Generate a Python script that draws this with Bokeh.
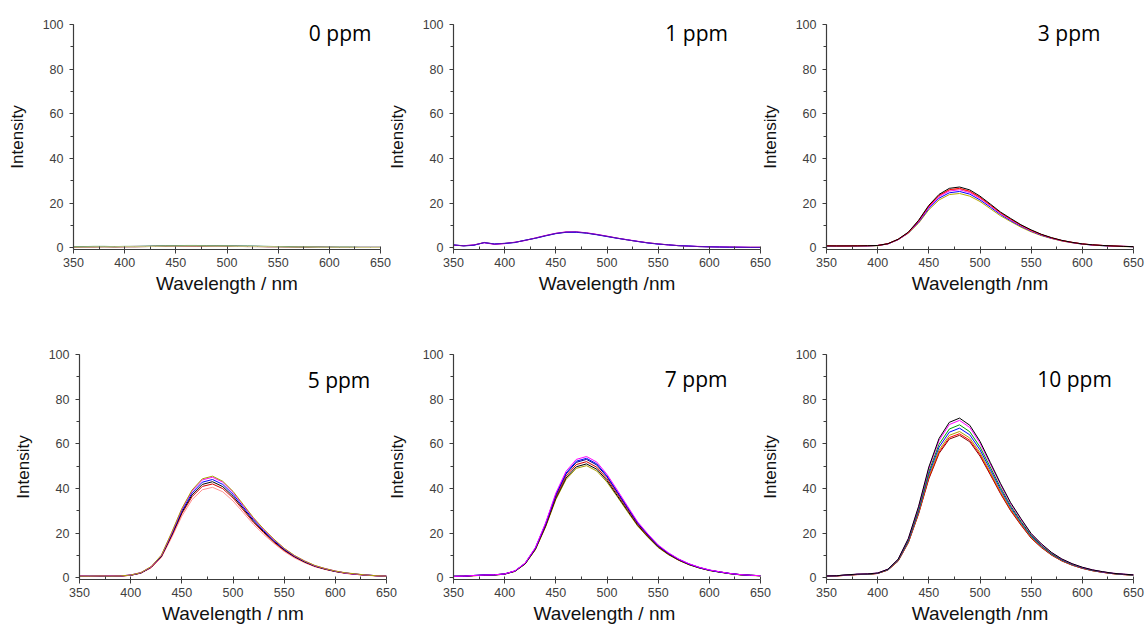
from bokeh.plotting import figure
from bokeh.layouts import row, column
from bokeh.models import Range1d, SingleIntervalTicker, Label
from bokeh.embed import file_html
from bokeh.resources import INLINE

# ---------------- data ----------------
WAVELENGTH = [350, 360, 370, 380, 390, 400, 410, 420, 430, 440, 450, 460, 470, 480, 490, 500,
              510, 520, 530, 540, 550, 560, 570, 580, 590, 600, 610, 620, 630, 640, 650]

PPM0 = [
    [0.4, 0.4, 0.5, 0.5, 0.5, 0.5, 0.6, 0.6, 0.7, 0.8, 0.8, 0.9, 0.8, 0.8, 0.8, 0.7, 0.7, 0.6, 0.6, 0.5, 0.5, 0.4, 0.4, 0.3, 0.3, 0.3, 0.2, 0.2, 0.2, 0.2, 0.2],
    [0.2, 0.3, 0.3, 0.4, 0.3, 0.4, 0.4, 0.5, 0.6, 0.6, 0.7, 0.7, 0.7, 0.6, 0.7, 0.6, 0.6, 0.5, 0.5, 0.4, 0.4, 0.3, 0.2, 0.2, 0.2, 0.1, 0.1, 0.1, 0.1, 0.1, 0.1],
    [0.5, 0.5, 0.6, 0.6, 0.5, 0.6, 0.6, 0.7, 0.8, 0.9, 0.9, 1.0, 1.0, 0.9, 0.9, 0.9, 0.8, 0.8, 0.7, 0.6, 0.5, 0.5, 0.4, 0.4, 0.3, 0.3, 0.3, 0.3, 0.2, 0.2, 0.2],
    [0.3, 0.3, 0.4, 0.4, 0.4, 0.5, 0.5, 0.5, 0.6, 0.7, 0.7, 0.8, 0.8, 0.7, 0.7, 0.7, 0.6, 0.6, 0.5, 0.5, 0.4, 0.3, 0.3, 0.3, 0.2, 0.2, 0.2, 0.2, 0.1, 0.1, 0.1],
]
PPM1 = [
    [1.2, 0.8, 1.2, 2.4, 1.6, 1.9, 2.4, 3.3, 4.3, 5.4, 6.4, 7.0, 7.0, 6.6, 5.9, 5.1, 4.3, 3.5, 2.8, 2.2, 1.7, 1.3, 0.9, 0.7, 0.5, 0.4, 0.3, 0.3, 0.2, 0.2, 0.2],
    [1.1, 0.9, 1.3, 2.2, 1.5, 1.8, 2.5, 3.2, 4.4, 5.5, 6.5, 7.1, 7.1, 6.7, 6.0, 5.2, 4.3, 3.6, 2.9, 2.2, 1.7, 1.2, 1.0, 0.7, 0.6, 0.4, 0.4, 0.3, 0.3, 0.2, 0.2],
    [1.3, 0.8, 1.1, 2.3, 1.7, 1.9, 2.3, 3.4, 4.2, 5.3, 6.3, 6.9, 6.9, 6.5, 5.8, 5.0, 4.2, 3.5, 2.8, 2.1, 1.6, 1.3, 0.9, 0.8, 0.5, 0.4, 0.3, 0.2, 0.2, 0.1, 0.1],
    [1.2, 0.9, 1.2, 2.3, 1.6, 2.0, 2.4, 3.3, 4.3, 5.4, 6.4, 7.0, 7.1, 6.6, 5.9, 5.1, 4.3, 3.5, 2.8, 2.2, 1.7, 1.3, 0.9, 0.7, 0.5, 0.4, 0.3, 0.3, 0.2, 0.2, 0.2],
]
PPM3 = [
    [0.8, 0.8, 0.8, 0.8, 0.8, 0.9, 1.7, 3.6, 6.5, 11.0, 17.0, 21.4, 23.8, 24.3, 23.1, 20.7, 17.5, 14.3, 11.7, 9.2, 7.1, 5.4, 4.1, 3.0, 2.2, 1.6, 1.2, 0.9, 0.7, 0.5, 0.4],
    [0.8, 0.7, 0.8, 0.8, 0.8, 1.0, 1.7, 3.6, 6.6, 11.4, 17.6, 22.2, 24.6, 25.2, 24.0, 21.4, 18.2, 14.9, 12.1, 9.6, 7.4, 5.6, 4.2, 3.1, 2.3, 1.6, 1.2, 0.9, 0.7, 0.6, 0.4],
    [0.8, 0.8, 0.7, 0.8, 0.9, 1.0, 1.7, 3.7, 6.7, 11.7, 18.2, 22.9, 25.4, 26.0, 24.7, 22.1, 18.8, 15.3, 12.5, 9.9, 7.6, 5.8, 4.3, 3.2, 2.3, 1.7, 1.2, 1.0, 0.7, 0.6, 0.5],
    [0.9, 0.8, 0.8, 0.8, 0.9, 1.0, 1.8, 3.8, 6.9, 12.1, 18.8, 23.6, 25.8, 26.3, 25.1, 22.4, 19.0, 15.5, 12.7, 10.0, 7.7, 5.9, 4.4, 3.2, 2.4, 1.7, 1.3, 1.0, 0.8, 0.6, 0.5],
    [0.9, 0.8, 0.8, 0.9, 0.9, 1.0, 1.8, 3.7, 6.8, 12.0, 18.6, 23.4, 26.0, 26.6, 25.3, 22.6, 19.2, 15.7, 12.8, 10.1, 7.8, 5.9, 4.4, 3.2, 2.4, 1.7, 1.3, 1.0, 0.8, 0.6, 0.5],
    [0.8, 0.8, 0.8, 0.8, 0.9, 1.0, 1.8, 3.8, 7.0, 12.3, 19.0, 23.9, 26.6, 27.2, 25.9, 23.1, 19.6, 16.0, 13.1, 10.3, 8.0, 6.0, 4.5, 3.3, 2.4, 1.7, 1.3, 1.0, 0.8, 0.6, 0.5],
]
PPM5 = [
    [0.6, 0.6, 0.7, 0.6, 0.7, 1.1, 2.0, 4.4, 9.0, 17.9, 27.6, 35.0, 39.4, 40.5, 38.5, 34.4, 29.2, 23.9, 19.4, 15.4, 11.8, 8.9, 6.7, 4.9, 3.7, 2.7, 1.9, 1.5, 1.1, 0.8, 0.6],
    [0.7, 0.6, 0.7, 0.7, 0.7, 1.1, 2.1, 4.6, 9.4, 18.6, 28.7, 36.3, 40.9, 42.0, 39.9, 35.7, 30.3, 24.8, 20.2, 15.9, 12.2, 9.3, 7.0, 5.1, 3.8, 2.8, 2.0, 1.5, 1.1, 0.9, 0.7],
    [0.7, 0.7, 0.7, 0.7, 0.8, 1.1, 2.1, 4.7, 9.6, 19.1, 29.3, 37.1, 41.8, 43.0, 40.8, 36.5, 31.0, 25.4, 20.6, 16.3, 12.5, 9.5, 7.1, 5.2, 3.9, 2.8, 2.1, 1.6, 1.2, 0.9, 0.7],
    [0.7, 0.7, 0.8, 0.7, 0.8, 1.2, 2.2, 4.8, 9.8, 19.5, 30.0, 38.0, 42.8, 44.0, 41.8, 37.4, 31.7, 26.0, 21.1, 16.7, 12.8, 9.7, 7.3, 5.3, 4.0, 2.9, 2.1, 1.6, 1.2, 0.9, 0.7],
    [0.8, 0.7, 0.8, 0.8, 0.8, 1.2, 2.3, 4.9, 10.0, 19.9, 30.7, 38.9, 43.8, 45.0, 42.8, 38.3, 32.4, 26.6, 21.6, 17.1, 13.1, 9.9, 7.5, 5.4, 4.1, 3.0, 2.1, 1.6, 1.2, 0.9, 0.7],
    [0.7, 0.7, 0.8, 0.7, 0.8, 1.2, 2.3, 5.0, 10.1, 20.2, 31.0, 39.3, 44.3, 45.5, 43.2, 38.7, 32.8, 26.9, 21.8, 17.3, 13.2, 10.0, 7.5, 5.5, 4.1, 3.0, 2.2, 1.7, 1.2, 0.9, 0.7],
]
PPM7 = [
    [0.6, 0.7, 0.9, 1.1, 1.2, 1.6, 2.8, 6.1, 12.5, 22.7, 35.0, 44.0, 49.0, 50.2, 47.8, 42.8, 36.3, 29.6, 23.1, 18.1, 13.5, 10.3, 7.8, 5.8, 4.4, 3.2, 2.5, 1.8, 1.3, 1.0, 0.8],
    [0.6, 0.6, 1.0, 1.1, 1.2, 1.6, 2.9, 6.2, 12.7, 23.1, 35.6, 44.7, 49.7, 51.0, 48.6, 43.5, 36.8, 30.1, 23.5, 18.4, 13.8, 10.5, 7.9, 5.9, 4.4, 3.3, 2.5, 1.8, 1.3, 1.1, 0.9],
    [0.6, 0.7, 0.9, 1.2, 1.3, 1.7, 2.9, 6.3, 12.9, 23.5, 36.3, 45.6, 50.7, 52.0, 49.5, 44.3, 37.6, 30.7, 23.9, 18.7, 14.0, 10.7, 8.0, 6.0, 4.5, 3.3, 2.6, 1.9, 1.4, 1.1, 0.9],
    [0.6, 0.7, 1.0, 1.2, 1.3, 1.7, 3.0, 6.4, 13.2, 24.0, 37.0, 46.5, 51.7, 53.0, 50.5, 45.2, 38.3, 31.3, 24.4, 19.1, 14.3, 10.9, 8.2, 6.1, 4.6, 3.4, 2.6, 1.9, 1.4, 1.1, 0.9],
    [0.7, 0.7, 1.0, 1.3, 1.3, 1.7, 3.0, 6.5, 13.3, 24.2, 37.3, 46.9, 52.2, 53.5, 51.0, 45.6, 38.6, 31.6, 24.6, 19.3, 14.4, 11.0, 8.3, 6.2, 4.6, 3.4, 2.6, 1.9, 1.4, 1.1, 0.9],
    [0.6, 0.7, 1.0, 1.2, 1.3, 1.7, 3.1, 6.6, 13.5, 24.6, 37.9, 47.7, 53.0, 54.3, 51.8, 46.3, 39.3, 32.1, 25.0, 19.6, 14.7, 11.2, 8.4, 6.3, 4.7, 3.5, 2.7, 1.9, 1.4, 1.1, 0.9],
]
PPM10 = [
    [0.7, 0.8, 1.1, 1.4, 1.5, 1.9, 3.4, 7.4, 15.7, 28.6, 44.3, 55.7, 62.1, 63.8, 60.9, 54.5, 46.2, 37.7, 30.0, 23.6, 17.7, 13.5, 10.1, 7.5, 5.6, 4.2, 3.1, 2.4, 1.8, 1.4, 1.1],
    [0.7, 0.8, 1.1, 1.4, 1.5, 1.9, 3.5, 7.5, 15.9, 28.9, 44.8, 56.3, 62.8, 64.5, 61.6, 55.2, 46.7, 38.1, 30.3, 23.9, 17.9, 13.7, 10.2, 7.6, 5.7, 4.2, 3.2, 2.4, 1.8, 1.4, 1.2],
    [0.8, 0.9, 1.2, 1.5, 1.6, 2.0, 3.5, 7.6, 16.1, 29.3, 45.5, 57.2, 63.8, 65.5, 62.6, 56.0, 47.4, 38.7, 30.8, 24.3, 18.2, 13.9, 10.4, 7.7, 5.8, 4.3, 3.2, 2.4, 1.9, 1.5, 1.2],
    [0.8, 0.9, 1.2, 1.5, 1.6, 2.0, 3.6, 7.8, 16.5, 30.0, 46.5, 58.5, 65.2, 67.0, 64.0, 57.3, 48.5, 39.6, 31.5, 24.8, 18.6, 14.2, 10.6, 7.9, 5.9, 4.4, 3.3, 2.5, 1.9, 1.5, 1.2],
    [0.8, 0.9, 1.2, 1.5, 1.6, 2.0, 3.7, 8.0, 16.9, 30.7, 47.5, 59.8, 66.6, 68.5, 65.4, 58.6, 49.6, 40.5, 32.2, 25.3, 19.0, 14.5, 10.8, 8.1, 6.0, 4.5, 3.4, 2.6, 1.9, 1.5, 1.2],
    [0.8, 0.9, 1.2, 1.6, 1.7, 2.1, 3.8, 8.2, 17.4, 31.6, 48.9, 61.5, 68.6, 70.5, 67.3, 60.3, 51.0, 41.7, 33.1, 26.1, 19.6, 14.9, 11.2, 8.3, 6.2, 4.6, 3.5, 2.6, 2.0, 1.6, 1.3],
    [0.8, 0.9, 1.3, 1.6, 1.7, 2.1, 3.8, 8.3, 17.6, 32.0, 49.6, 62.4, 69.6, 71.5, 68.3, 61.1, 51.7, 42.3, 33.6, 26.5, 19.8, 15.2, 11.3, 8.4, 6.3, 4.7, 3.5, 2.7, 2.0, 1.6, 1.3],
]

TITLES = ["0 ppm", "1 ppm", "3 ppm", "5 ppm", "7 ppm", "10 ppm"]
XLABELS = ["Wavelength / nm", "Wavelength /nm", "Wavelength /nm",
           "Wavelength / nm", "Wavelength  / nm", "Wavelength /nm"]
YLABEL = "Intensity"

COLORS0 = ["#B03090", "#8B1A1A", "#2E8B57", "#CFC88A"]
COLORS1 = ["#D4C030", "#FF00FF", "#0000FF", "#6A0DAD"]
COLORS3 = ["#B8A800", "#0000FF", "#FF00FF", "#FF8080", "#FF0000", "#000000"]
COLORS5 = ["#FF9090", "#D00000", "#000000", "#0000FF", "#FF00FF", "#A8A000"]
COLORS7 = ["#A8A000", "#000000", "#D00000", "#000080", "#0000FF", "#FF00FF"]
COLORS10 = ["#800000", "#FF0000", "#A8A000", "#0000FF", "#00A000", "#FF00FF", "#000000"]

# ---------------- styling / layout ----------------
FW, FH = 307, 225
LEFT = 78


def make_panel(series, colors, title, xlabel, tx, ty, top, bottom, right, shift):
    p = figure(x_range=Range1d(350, 650), y_range=Range1d(-0.8, 100),
               frame_width=FW, frame_height=FH,
               min_border_left=LEFT, min_border_right=right,
               min_border_top=top, min_border_bottom=bottom,
               output_backend="svg", toolbar_location=None,
               border_fill_color=None, background_fill_color="white",
               outline_line_color=None)
    p.margin = (0, 0, 0, shift)
    p.xgrid.visible = False
    p.ygrid.visible = False
    p.xaxis.ticker = SingleIntervalTicker(interval=50, num_minor_ticks=2)
    p.yaxis.ticker = SingleIntervalTicker(interval=20, num_minor_ticks=2)
    for ax in (p.xaxis[0], p.yaxis[0]):
        ax.axis_line_color = "#3c3c3c"
        ax.axis_line_width = 1.2
        ax.major_tick_line_color = "#3c3c3c"
        ax.minor_tick_line_color = "#3c3c3c"
        ax.major_tick_out = 4
        ax.major_tick_in = 0
        ax.major_label_text_font = "Liberation Sans"
        ax.major_label_text_font_size = "12.5px"
        ax.major_label_text_color = "#404040"
        ax.axis_label_text_font = "Liberation Sans"
        ax.axis_label_text_font_style = "normal"
        ax.axis_label_text_color = "#111111"
    p.xaxis.minor_tick_in = 3
    p.xaxis.minor_tick_out = 0
    p.yaxis.minor_tick_in = 0
    p.yaxis.minor_tick_out = 3
    p.xaxis.major_label_standoff = 4
    p.yaxis.major_label_standoff = 6
    p.xaxis.axis_label = xlabel
    p.yaxis.axis_label = YLABEL
    p.xaxis.axis_label_text_font_size = "19px"
    p.yaxis.axis_label_text_font_size = "17px"
    p.xaxis.axis_label_standoff = 3
    p.yaxis.axis_label_standoff = 13
    for s, c in zip(series, colors):
        p.line(WAVELENGTH, s, line_color=c, line_width=1)
    p.add_layout(Label(x=tx, y=ty, text=title, text_font="Open Sans",
                       text_font_size="21px", text_color="#000000",
                       text_align="left", text_baseline="middle"))
    return p


p0 = make_panel(PPM0, COLORS0, TITLES[0], XLABELS[0], 580.0, 96.4, 24, 62, 22, -5)
p1 = make_panel(PPM1, COLORS1, TITLES[1], XLABELS[1], 557.0, 96.4, 24, 62, 22, -27)
p2 = make_panel(PPM3, COLORS3, TITLES[2], XLABELS[2], 556.5, 96.4, 24, 62, 14, -34)
p3 = make_panel(PPM5, COLORS5, TITLES[3], XLABELS[3], 573.0, 88.8, 43, 48, 22, 1)
p4 = make_panel(PPM7, COLORS7, TITLES[4], XLABELS[4], 556.5, 89.2, 43, 48, 22, -33)
p5 = make_panel(PPM10, COLORS10, TITLES[5], XLABELS[5], 556.0, 89.2, 43, 48, 14, -34)

layout = column(row(p0, p1, p2), row(p3, p4, p5))
layout.margin = (0, 0, -30, 0)

open("out.html", "w").write(file_html(layout, INLINE))
